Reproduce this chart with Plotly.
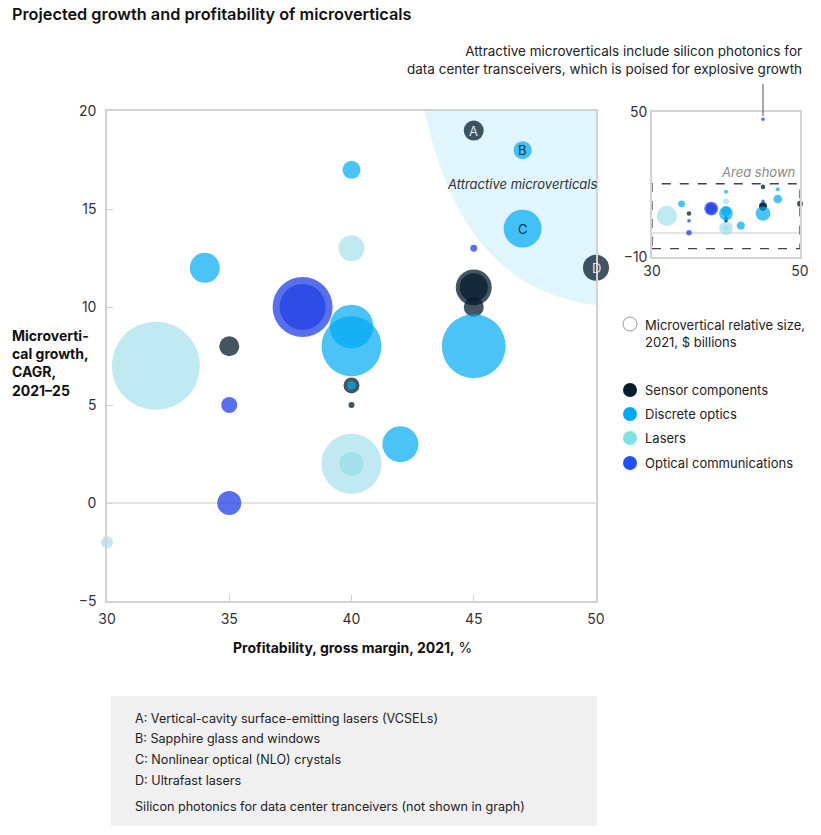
import plotly.graph_objects as go

W, H = 821, 835

def fx(px):
    return px / W

def fy(py):
    return 1 - py / H

# ---------------- data ----------------
categories = ["Sensor components", "Discrete optics", "Lasers", "Optical communications"]

sensor_x = [35, 40, 40, 45, 45, 45, 45, 50]
sensor_y = [8, 6, 5, 11, 11, 10, 19, 12]
sensor_size = [1.0, 0.64, 0.09, 3.24, 2.0, 1.0, 1.0, 1.7]
sensor_label = ["", "", "", "", "", "", "A", "D"]

discrete_x = [34, 40, 40, 40, 40, 42, 45, 47, 47]
discrete_y = [12, 17, 9, 8, 6, 3, 8, 18, 14]
discrete_size = [2.25, 0.81, 4.8, 9.0, 0.2, 3.24, 10.2, 0.81, 3.6]
discrete_label = ["", "", "", "", "", "", "", "B", "C"]

lasers_x = [32, 30, 40, 40, 40]
lasers_y = [7, -2, 13, 2, 2]
lasers_size = [19.4, 0.36, 1.7, 9.0, 1.44]

optical_x = [35, 35, 38, 38, 45]
optical_y = [5, 0, 10, 10, 13]
optical_size = [0.64, 1.44, 9.0, 5.3, 0.12]

silicon_x = [45]
silicon_y = [47]
silicon_size = [0.1]

x_ticks = [30, 35, 40, 45, 50]
y_ticks = [-5, 0, 5, 10, 15, 20]

legend_colors = ["#051c2c", "#00a9f4", "#7ee3e3", "#2251ff"]
chart_colors = ["rgba(5,28,44,0.75)", "rgba(0,169,244,0.70)",
                "rgba(140,215,232,0.55)", "rgba(34,64,230,0.75)"]

notes = [
    "A: Vertical-cavity surface-emitting lasers (VCSELs)",
    "B: Sapphire glass and windows",
    "C: Nonlinear optical (NLO) crystals",
    "D: Ultrafast lasers",
]
note_extra = "Silicon photonics for data center tranceivers (not shown in graph)"

FONT = "Inter"
TXT = "#222222"

groups = [
    (sensor_x, sensor_y, sensor_size, chart_colors[0]),
    (discrete_x, discrete_y, discrete_size, chart_colors[1]),
    (lasers_x, lasers_y, lasers_size, chart_colors[2]),
    (optical_x, optical_y, optical_size, chart_colors[3]),
]
draw_order = [2, 0, 1, 3]

fig = go.Figure()

# main chart
for gi in draw_order:
    xs, ys, ss, col = groups[gi]
    fig.add_trace(go.Scatter(
        x=xs, y=ys, mode="markers", xaxis="x", yaxis="y",
        marker=dict(size=ss, sizemode="area", sizeref=0.005, color=col,
                    opacity=1, line=dict(width=0)),
        cliponaxis=False, hoverinfo="skip", showlegend=False))

# inset chart
for gi in draw_order:
    xs, ys, ss, col = groups[gi]
    fig.add_trace(go.Scatter(
        x=xs, y=ys, mode="markers", xaxis="x2", yaxis="y2",
        marker=dict(size=ss, sizemode="area", sizeref=0.0945, sizemin=1.8,
                    color=col, opacity=1, line=dict(width=0)),
        cliponaxis=False, hoverinfo="skip", showlegend=False))
fig.add_trace(go.Scatter(
    x=silicon_x, y=silicon_y, mode="markers", xaxis="x2", yaxis="y2",
    marker=dict(size=silicon_size, sizemode="area", sizeref=0.0945, sizemin=1.8,
                color=chart_colors[3], opacity=1, line=dict(width=0)),
    cliponaxis=False, hoverinfo="skip", showlegend=False))

# main plot area in px: x 107..596, y 111..601
main_dom_x = [fx(107), fx(596)]
main_dom_y = [fy(601), fy(111)]
inset_dom_x = [fx(652), fx(800)]
inset_dom_y = [fy(257), fy(112)]

axis_common = dict(showgrid=False, showline=True, mirror=True, linecolor="#d2d2d2",
                   linewidth=1.5, automargin=False, fixedrange=True,
                   tickfont=dict(family=FONT, size=14, color="#333333"))

fig.update_layout(
    width=W, height=H, autosize=False,
    margin=dict(l=0, r=0, t=0, b=0),
    paper_bgcolor="white", plot_bgcolor="white",
    showlegend=False,
    font=dict(family=FONT, color=TXT),
    xaxis=dict(domain=main_dom_x, range=[30, 50], tickvals=x_ticks, anchor="y",
               zeroline=False, ticks="inside", ticklen=6, tickcolor="#d2d2d2",
               ticklabelstandoff=4, **axis_common),
    yaxis=dict(domain=main_dom_y, range=[-5, 20], tickvals=y_ticks, anchor="x",
               zeroline=True, zerolinecolor="#e4e4e4", zerolinewidth=1.5,
               ticks="inside", ticklen=6, tickcolor="#d2d2d2",
               ticklabelstandoff=6, **axis_common),
    xaxis2=dict(domain=inset_dom_x, range=[30, 50], tickvals=[30, 50], anchor="y2",
                zeroline=False, ticks="", **axis_common),
    yaxis2=dict(domain=inset_dom_y, range=[-10, 50], tickvals=[-10, 50], anchor="x2",
                zeroline=True, zerolinecolor="#e4e4e4", zerolinewidth=1.5,
                ticks="", **axis_common),
)

shapes = []
# attractive region
shapes.append(dict(type="path", xref="x", yref="y", layer="below",
                   path="M 43,20 Q 44.5,10.9 50,10.1 L 50,20 Z",
                   fillcolor="#e0f5fc", line=dict(width=0)))
# area shown rectangle in inset
shapes.append(dict(type="rect", xref="x2", yref="y2", x0=30, x1=50, y0=-6.5, y1=20.3,
                   line=dict(color="#444444", width=1.3, dash="dash"),
                   fillcolor="rgba(0,0,0,0)"))
# connector line from annotation to silicon photonics dot
shapes.append(dict(type="line", xref="paper", yref="paper",
                   x0=fx(763), x1=fx(763), y0=fy(84), y1=fy(116),
                   line=dict(color="#555555", width=1)))
# footnote box
shapes.append(dict(type="rect", xref="paper", yref="paper",
                   x0=fx(111), x1=fx(597), y0=fy(826), y1=fy(696),
                   fillcolor="#f0f0f0", line=dict(width=0), layer="below"))
# legend: size circle
shapes.append(dict(type="circle", xref="paper", yref="paper",
                   xsizemode="pixel", ysizemode="pixel",
                   xanchor=fx(630), yanchor=fy(324), x0=-7, x1=7, y0=-7, y1=7,
                   line=dict(color="#999999", width=1), fillcolor="white"))
legend_y = [390, 414, 438, 463]
for c, ly in zip(legend_colors, legend_y):
    shapes.append(dict(type="circle", xref="paper", yref="paper",
                       xsizemode="pixel", ysizemode="pixel",
                       xanchor=fx(630), yanchor=fy(ly), x0=-7, x1=7, y0=-7, y1=7,
                       line=dict(width=0), fillcolor=c))
fig.update_layout(shapes=shapes)

ann = []
ann.append(dict(text="Projected growth and profitability of microverticals",
                x=fx(10), y=fy(14), xref="paper", yref="paper",
                xanchor="left", yanchor="middle", showarrow=False,
                font=dict(family=FONT, size=16.3, color="#111111", weight=600)))
ann.append(dict(text="Attractive microverticals include silicon photonics for<br>"
                     "data center transceivers, which is poised for explosive growth",
                x=fx(804), y=fy(60), xref="paper", yref="paper",
                xanchor="right", yanchor="middle", align="right", showarrow=False,
                font=dict(family=FONT, size=13.5, color=TXT)))
ann.append(dict(text="<b>Microverti-<br>cal growth,<br>CAGR,<br>2021–25</b>",
                x=fx(10), y=fy(363), xref="paper", yref="paper",
                xanchor="left", yanchor="middle", align="left", showarrow=False,
                font=dict(family=FONT, size=14, color="#111111")))
ann.append(dict(text="<b>Profitability, gross margin, 2021,</b> %",
                x=fx(352), y=fy(647), xref="paper", yref="paper",
                xanchor="center", yanchor="middle", showarrow=False,
                font=dict(family=FONT, size=14, color="#111111")))
ann.append(dict(text="<i>Attractive microverticals</i>",
                x=fx(522), y=fy(184), xref="paper", yref="paper",
                xanchor="center", yanchor="middle", showarrow=False,
                font=dict(family=FONT, size=13, color="#333333")))
ann.append(dict(text="<i>Area shown</i>",
                x=fx(798), y=fy(172), xref="paper", yref="paper",
                xanchor="right", yanchor="middle", showarrow=False,
                font=dict(family=FONT, size=13, color="#888888")))
# bubble letter labels
for xs, ys, labs, col in [(sensor_x, sensor_y, sensor_label, "#dfe4e8"),
                          (discrete_x, discrete_y, discrete_label, "#123247")]:
    for xv, yv, lb in zip(xs, ys, labs):
        if lb:
            ann.append(dict(text=lb, x=xv, y=yv, xref="x", yref="y",
                            showarrow=False, xanchor="center", yanchor="middle",
                            font=dict(family=FONT, size=13, color=col)))
# legend text
ann.append(dict(text="Microvertical relative size,<br>2021, $ billions",
                x=fx(643), y=fy(333), xref="paper", yref="paper",
                xanchor="left", yanchor="middle", align="left", showarrow=False,
                font=dict(family=FONT, size=13, color=TXT)))
for cat, ly in zip(categories, legend_y):
    ann.append(dict(text=cat, x=fx(643), y=fy(ly), xref="paper", yref="paper",
                    xanchor="left", yanchor="middle", showarrow=False,
                    font=dict(family=FONT, size=13, color=TXT)))
# footnote text
note_y = [718, 738, 759, 780]
for t, ny in zip(notes, note_y):
    ann.append(dict(text=t, x=fx(133), y=fy(ny), xref="paper", yref="paper",
                    xanchor="left", yanchor="middle", showarrow=False,
                    font=dict(family=FONT, size=12.6, color=TXT)))
ann.append(dict(text=note_extra, x=fx(133), y=fy(806), xref="paper", yref="paper",
                xanchor="left", yanchor="middle", showarrow=False,
                font=dict(family=FONT, size=12.6, color=TXT)))
fig.update_layout(annotations=ann)

fig.write_html("out.html")
